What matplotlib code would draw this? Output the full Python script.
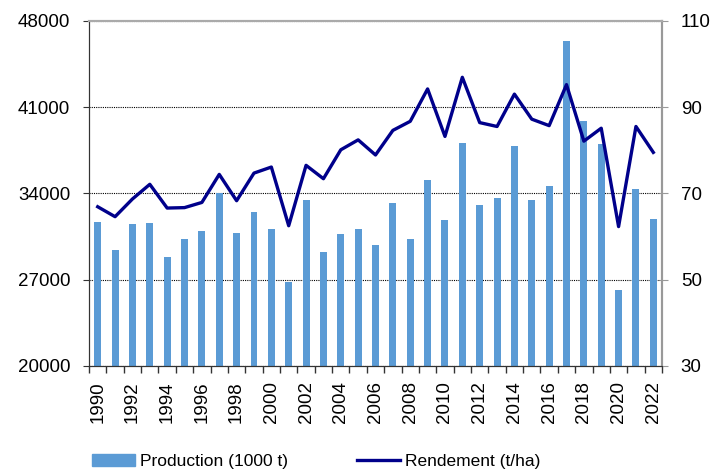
import matplotlib.pyplot as plt
import numpy as np
from matplotlib.lines import Line2D
from matplotlib.patches import Patch

plt.rcParams['font.family'] = ['Liberation Sans', 'DejaVu Sans']

years = list(range(1990, 2023))
production = [31690, 29420, 31520, 31600, 28870, 30330, 30930, 34000, 30770, 32470,
              31090, 26820, 33450, 29280, 30740, 31090, 29850, 33200, 30280, 35120,
              31850, 38100, 33070, 33610, 37830, 33500, 34630, 46380, 39910, 38020,
              26140, 34340, 31900]
rendement = [66.9, 64.6, 68.7, 72.1, 66.6, 66.7, 67.9, 74.4, 68.3, 74.7,
             76.1, 62.5, 76.5, 73.4, 80.1, 82.4, 78.9, 84.6, 86.7, 94.2,
             83.2, 96.9, 86.4, 85.5, 93.0, 87.2, 85.7, 95.2, 82.1, 85.1,
             62.3, 85.5, 79.5]

bar_color = "#5B9BD5"
line_color = "#00008B"

fig = plt.figure(figsize=(7.18, 4.72), dpi=100)
ax = fig.add_axes([0.124, 0.2246, 0.798, 0.7314])
x = np.arange(len(years))

ax.bar(x, production, width=0.4, color=bar_color, zorder=2)
ax.set_xlim(-0.5, len(years) - 0.5)
ax.set_ylim(20000, 48000)
ax.set_yticks(range(20000, 48001, 7000))
ax.grid(axis="y", color="black", linestyle=(0, (1, 1)), linewidth=0.8, zorder=1)

ax.set_xticks(x[::2])
ax.set_xticklabels([str(y) for y in years[::2]], rotation=90)
ax.set_xticks(np.arange(-0.5, len(years), 1), minor=True)
ax.tick_params(axis="x", which="major", length=0, pad=11, labelsize=13.5)
ax.tick_params(axis="x", which="minor", length=5, width=1, color="#333333")
ax.tick_params(axis="y", labelsize=13.5, length=4.5, pad=9, color="#333333")

ax2 = ax.twinx()
ax2.plot(x, rendement, color=line_color, linewidth=2.4, zorder=3)
ax2.set_ylim(30, 110)
ax2.set_yticks(range(30, 111, 20))
ax2.tick_params(axis="y", labelsize=13.5, length=4.5, pad=9, color="#999999")

for a in (ax, ax2):
    a.spines["top"].set_color("#AAAAAA")
    a.spines["right"].set_color("#999999")
    a.spines["left"].set_color("#333333")
    a.spines["bottom"].set_color("#333333")
    a.spines["top"].set_linewidth(1.5)
    a.spines["right"].set_linewidth(1.5)

handles = [Patch(color=bar_color), Line2D([0], [0], color=line_color, linewidth=2.4)]
labels = ["Production (1000 t)", "Rendement (t/ha)"]
fig.legend(handles, labels, loc="center left", bbox_to_anchor=(0.106, 0.022), ncol=2,
           frameon=False, fontsize=12.5, handlelength=2.48, handleheight=0.65,
           handletextpad=0.29, columnspacing=3.97)

fig.savefig("out.png", dpi=100)
